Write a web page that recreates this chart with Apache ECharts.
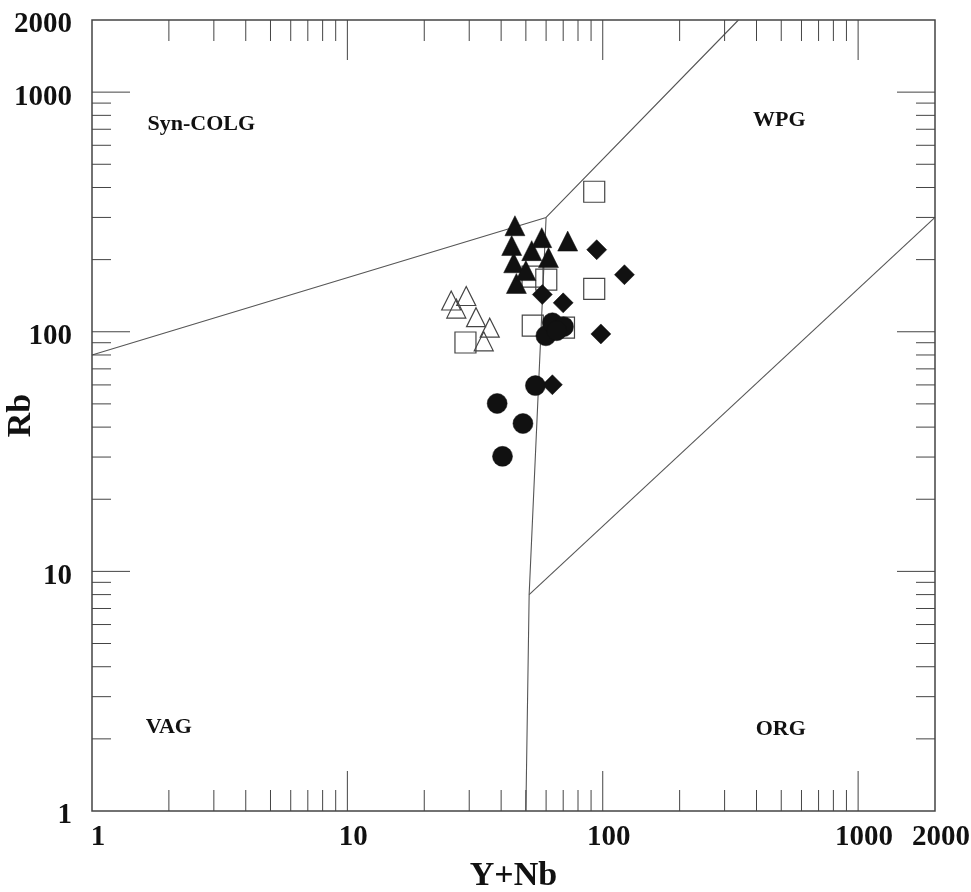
<!DOCTYPE html>
<html><head><meta charset="utf-8">
<script src="https://cdn.jsdelivr.net/npm/echarts@6/dist/echarts.min.js"></script>
<style>html,body{margin:0;padding:0;background:#fff}#c{width:971px;height:892px}</style>
</head><body><div id="c"></div>
<script>
// ---- data ----
const xTickLabels = [1, 10, 100, 1000, 2000];
const yTickLabels = [1, 10, 100, 1000, 2000];
const majorTicks = [10, 100, 1000];
const minorTicks = [2,3,4,5,6,7,8,9,20,30,40,50,60,70,80,90,200,300,400,500,600,700,800,900];

const lineSynColg = [[1, 80], [60, 300], [340, 2000]];
const lineVagWpg = [[60, 300], [51.5, 8], [50, 1]];
const lineWpgOrg = [[51.5, 8], [2000, 300]];

const filledTriangles = [[45.3, 277], [44, 229], [44.8, 194], [45.9, 159], [52.7, 218], [57.7, 247], [61.3, 204], [72.9, 239], [50, 180]];
const openTriangles = [[25.5, 135], [29.2, 141], [26.7, 125], [31.9, 115], [36.1, 104], [34.2, 91.2]];
const openSquares = [[92.6, 384], [60.1, 165], [53.1, 170], [92.6, 151], [53.2, 106], [29, 90.2], [70.5, 104]];
const filledDiamonds = [[94.7, 220], [121.6, 173], [58, 143], [70, 132], [98.3, 97.9], [63.5, 60.1]];
const filledCircles = [[38.6, 50.2], [48.7, 41.4], [40.5, 30.2], [54.5, 59.6], [59.9, 96.2], [63.5, 109], [70.2, 105], [66, 101]];

const regionLabels = [['Syn-COLG', 2.68, 731], ['WPG', 491, 766], ['VAG', 2.0, 2.24], ['ORG', 498, 2.19]];

// ---- chart ----
const FONT = '"Liberation Serif", "DejaVu Serif", serif';
const chart = echarts.init(document.getElementById('c'), null, {renderer: 'canvas'});

function boundary(data) {
  return {type: 'line', data, symbol: 'none', silent: true, z: 2,
    lineStyle: {color: '#555', width: 1.1}, animation: false};
}
function scatter(data, symbol, filled, size) {
  return {type: 'scatter', data, symbol, symbolSize: size, z: filled ? 5 : 4, animation: false,
    itemStyle: filled ? {color: '#111', borderColor: '#111', borderWidth: 0.5, opacity: 1}
                      : {color: 'rgba(0,0,0,0)', borderColor: '#444', borderWidth: 1.2, opacity: 1}};
}

const tickData = majorTicks.map(v => [v, v, 1]).concat(minorTicks.map(v => [v, v, 0]));

const option = {
  backgroundColor: '#fff',
  animation: false,
  grid: {left: 92, top: 20, width: 843, height: 791, show: true, borderColor: '#444', borderWidth: 1.5,
    backgroundColor: 'transparent', containLabel: false, outerBoundsMode: 'none'},
  xAxis: {type: 'log', logBase: 10, min: 1, max: 2000,
    name: 'Y+Nb', nameLocation: 'middle', nameGap: 48,
    nameTextStyle: {fontFamily: FONT, fontWeight: 'bold', fontSize: 34, color: '#111'},
    axisLine: {show: false}, axisTick: {show: false}, axisLabel: {show: false}, splitLine: {show: false}},
  yAxis: {type: 'log', logBase: 10, min: 1, max: 2000,
    name: 'Rb', nameLocation: 'middle', nameGap: 54, nameRotate: 90,
    nameTextStyle: {fontFamily: FONT, fontWeight: 'bold', fontSize: 34, color: '#111'},
    axisLine: {show: false}, axisTick: {show: false}, axisLabel: {show: false}, splitLine: {show: false}},
  series: [
    boundary(lineSynColg), boundary(lineVagWpg), boundary(lineWpgOrg),
    {type: 'custom', data: tickData, encode: {x: 0, y: 1}, silent: true, z: 3,
      renderItem(params, api) {
        const v = api.value(0), major = api.value(2);
        const pB = api.coord([v, 1]), pT = api.coord([v, 2000]);
        const qL = api.coord([1, v]), qR = api.coord([2000, v]);
        const lx = major ? 40 : 21, ly = major ? 38 : 19;
        const style = {stroke: '#444', lineWidth: 1};
        return {type: 'group', children: [
          {type: 'line', shape: {x1: pB[0], y1: pB[1], x2: pB[0], y2: pB[1] - lx}, style},
          {type: 'line', shape: {x1: pT[0], y1: pT[1], x2: pT[0], y2: pT[1] + lx}, style},
          {type: 'line', shape: {x1: qL[0], y1: qL[1], x2: qL[0] + ly, y2: qL[1]}, style},
          {type: 'line', shape: {x1: qR[0], y1: qR[1], x2: qR[0] - ly, y2: qR[1]}, style}
        ]};
      }},
    {type: 'custom', data: xTickLabels.map(v => [v, 1]), encode: {x: 0, y: 1}, silent: true, z: 6,
      renderItem(params, api) {
        const p = api.coord([api.value(0), 1]);
        return {type: 'text', x: p[0] + 6, y: p[1] + 12, style: {text: String(api.value(0)), fontFamily: FONT, fontWeight: 'bold', fontSize: 29, fill: '#111', align: 'center', verticalAlign: 'top'}};
      }},
    {type: 'custom', data: yTickLabels.map(v => [1, v]), encode: {x: 0, y: 1}, silent: true, z: 6,
      renderItem(params, api) {
        const p = api.coord([1, api.value(1)]);
        return {type: 'text', x: p[0] - 20, y: p[1] + 5, style: {text: String(api.value(1)), fontFamily: FONT, fontWeight: 'bold', fontSize: 29, fill: '#111', align: 'right', verticalAlign: 'middle'}};
      }},
    {type: 'custom', data: regionLabels.map(r => [r[1], r[2]]), encode: {x: 0, y: 1}, silent: true, z: 6,
      renderItem(params, api) {
        const r = regionLabels[params.dataIndex];
        const p = api.coord([r[1], r[2]]);
        return {type: 'text', x: p[0], y: p[1], style: {text: r[0], fontFamily: FONT, fontWeight: 'bold', fontSize: 22, fill: '#111', align: 'center', verticalAlign: 'middle'}};
      }},
    scatter(openTriangles, 'triangle', false, 19),
    scatter(openSquares, 'rect', false, 21),
    scatter(filledTriangles, 'triangle', true, 20),
    scatter(filledDiamonds, 'diamond', true, 20),
    scatter(filledCircles, 'circle', true, 20)
  ]
};
chart.setOption(option);
</script></body></html>
